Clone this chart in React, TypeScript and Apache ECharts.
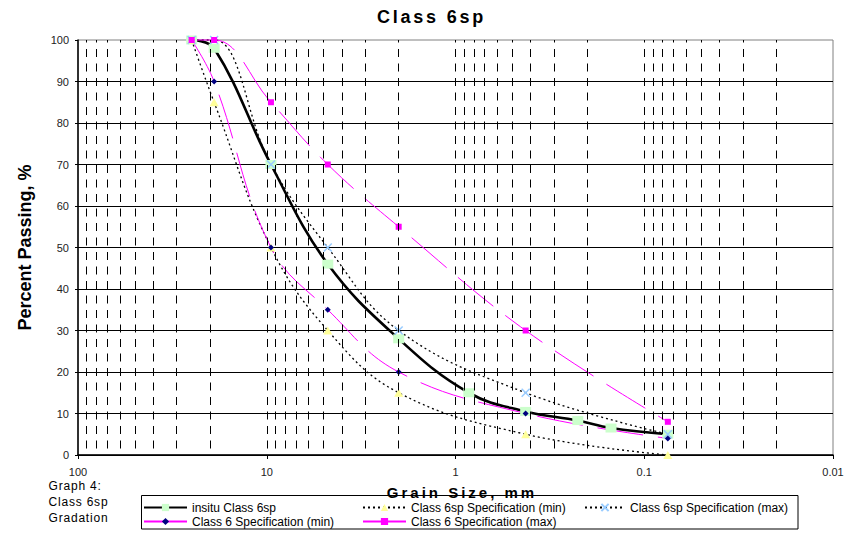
import React, { useEffect, useRef } from 'react';
import * as echarts from 'echarts';

const TITLE = 'Class 6sp';
const X_NAME = 'Grain Size, mm';
const Y_NAME = 'Percent Passing, %';
const NOTE_LINES = ['Graph 4:', 'Class 6sp', 'Gradation'];

const SERIES_NAMES = [
  'insitu Class 6sp',
  'Class 6sp Specification (min)',
  'Class 6sp Specification (max)',
  'Class 6 Specification (min)',
  'Class 6 Specification (max)',
];

// grain size (mm) and percent passing
const insituSize = [25, 19, 9.5, 4.75, 2.0, 0.85, 0.425, 0.225, 0.15, 0.075];
const insituPassing = [100, 98, 70, 46, 28, 15, 10.5, 8.3, 6.5, 5];

const specSize = [25, 19, 9.5, 4.75, 2.0, 0.425, 0.075];
const spec6spMin = [100, 85, 50, 30, 15, 5, 0];
const spec6spMax = [100, 100, 70, 50, 30, 15, 5];
const spec6Min = [100, 90, 50, 35, 20, 10, 4];
const spec6Max = [100, 100, 85, 70, 55, 30, 8];

const X_MIN = 0.01;
const X_MAX = 100;
const Y_MIN = 0;
const Y_MAX = 100;
const Y_STEP = 10;

// vertical (minor) grid line positions on the log axis
const gridSizes = [
  90, 80, 70, 60, 50, 40, 30, 20, 10,
  9, 8, 7, 6, 5, 4, 3, 2, 1,
  0.9, 0.8, 0.7, 0.6, 0.5, 0.4, 0.3, 0.2, 0.1,
  0.09, 0.08, 0.07, 0.06, 0.05, 0.04, 0.03, 0.02,
];

const FONT = 'Arial, "Liberation Sans", Helvetica, sans-serif';

const pairs = (xs: number[], ys: number[]) => xs.map((x, i) => [x, ys[i]]);

const SPACING_RULES: Array<[string, number, number, number]> = [
  // text, min font size, max font size, letter spacing
  [TITLE, 16, 30, 2.8],
  [X_NAME, 13, 30, 3],
  [NOTE_LINES[0], 10, 14, 0.8],
  [NOTE_LINES[1], 10, 14, 0.8],
  [NOTE_LINES[2], 10, 14, 0.8],
];

function applySpacing(root: HTMLElement) {
  root.querySelectorAll('text').forEach((t) => {
    const s = t.textContent || '';
    const fs = parseFloat(getComputedStyle(t).fontSize) || 0;
    for (const [txt, lo, hi, ls] of SPACING_RULES) {
      if (s === txt && fs >= lo && fs <= hi) {
        t.setAttribute('letter-spacing', ls + 'px');
      }
    }
  });
}

const legendLayout = [
  { left: 143, top: 501.5, w: 43 },
  { left: 362, top: 501.5, w: 43 },
  { left: 584, top: 501.5, w: 40 },
  { left: 143, top: 515.5, w: 43 },
  { left: 362, top: 515.5, w: 43 },
];

function buildOption(): any {
  const common = { type: 'line', smooth: 0.4, clip: false, silent: true, z: 3 };
  return {
    animation: false,
    backgroundColor: '#ffffff',
    grid: {
      left: 78,
      right: 23,
      top: 40,
      bottom: 79,
      show: true,
      borderColor: '#808080',
      borderWidth: 1,
      backgroundColor: 'transparent',
    },
    xAxis: {
      type: 'log',
      logBase: 10,
      min: X_MIN,
      max: X_MAX,
      inverse: true,
      axisLine: { show: true, onZero: false, lineStyle: { color: '#000', width: 1.5 } },
      axisTick: { show: true, length: 4, lineStyle: { color: '#000' } },
      axisLabel: {
        fontFamily: FONT,
        fontSize: 11,
        color: '#222',
        margin: 11,
        showMinLabel: true,
        showMaxLabel: true,
        formatter: (v: number) => String(Number(v.toPrecision(4))),
      },
      splitLine: { show: false },
    },
    yAxis: {
      type: 'value',
      min: Y_MIN,
      max: Y_MAX,
      interval: Y_STEP,
      axisLine: { show: true, lineStyle: { color: '#000', width: 1.5 } },
      axisTick: { show: true, length: 3, lineStyle: { color: '#000' } },
      axisLabel: { fontFamily: FONT, fontSize: 11, color: '#222', margin: 9 },
      splitLine: { show: true, showMaxLine: false, lineStyle: { color: '#000', width: 1 } },
    },
    legend: SERIES_NAMES.map((n, i) => ({
      data: [n],
      left: legendLayout[i].left,
      top: legendLayout[i].top,
      itemWidth: legendLayout[i].w,
      itemHeight: 9,
      padding: 0,
      itemGap: 0,
      selectedMode: false,
      textStyle: { fontFamily: FONT, fontSize: 12, color: '#000' },
    })),
    graphic: [
      {
        type: 'rect',
        z: 0,
        shape: { x: 141.5, y: 495.5, width: 656.5, height: 33.5 },
        style: { fill: 'none', stroke: '#000', lineWidth: 1 },
      },
      {
        type: 'text',
        x: 431.5,
        y: 16.5,
        style: {
          text: TITLE,
          font: 'bold 18px ' + FONT,
          fill: '#000',
          align: 'center',
          verticalAlign: 'middle',
        },
      },
      {
        type: 'text',
        x: 462,
        y: 492,
        style: {
          text: X_NAME,
          font: 'bold 15px ' + FONT,
          fill: '#000',
          align: 'center',
          verticalAlign: 'middle',
        },
      },
      {
        type: 'text',
        x: 25,
        y: 247.5,
        rotation: Math.PI / 2,
        style: {
          text: Y_NAME,
          font: 'bold 18px ' + FONT,
          fill: '#000',
          align: 'center',
          verticalAlign: 'middle',
        },
      },
      ...NOTE_LINES.map((t, i) => ({
        type: 'text',
        x: 48.5,
        y: [485.7, 502.3, 518.3][i],
        style: {
          text: t,
          font: '12px ' + FONT,
          fill: '#000',
          align: 'left',
          verticalAlign: 'middle',
        },
      })),
    ],
    series: [
      {
        name: 'vgrid',
        type: 'line',
        data: [],
        silent: true,
        z: 1,
        markLine: {
          silent: true,
          animation: false,
          symbol: ['none', 'none'],
          label: { show: false },
          emphasis: { disabled: true },
          lineStyle: { color: '#000', width: 1, type: [8, 6.5], dashOffset: 8 },
          data: gridSizes.map((v) => ({ xAxis: v })),
        },
      },
      {
        ...common,
        name: SERIES_NAMES[0],
        data: pairs(insituSize, insituPassing),
        symbol: 'rect',
        symbolSize: [11, 9],
        lineStyle: { color: '#000', width: 2.6 },
        itemStyle: { color: '#ccffcc' },
      },
      {
        ...common,
        name: SERIES_NAMES[1],
        data: pairs(specSize, spec6spMin),
        symbol: 'triangle',
        symbolSize: [9, 8],
        lineStyle: { color: '#000', width: 1.3, type: [2, 3] },
        itemStyle: { color: '#ffff99' },
      },
      {
        ...common,
        name: SERIES_NAMES[2],
        data: pairs(specSize, spec6spMax),
        symbol: 'path://M0,0L10,10M10,0L0,10',
        symbolSize: 8,
        lineStyle: { color: '#000', width: 1.3, type: [2, 3] },
        itemStyle: { color: '#99ccff', borderColor: '#99ccff', borderWidth: 1.5 },
      },
      {
        ...common,
        name: SERIES_NAMES[3],
        data: pairs(specSize, spec6Min),
        symbol: 'diamond',
        symbolSize: 6,
        lineStyle: { color: '#ff00ff', width: 1, type: [46, 15] },
        itemStyle: { color: '#000080' },
      },
      {
        ...common,
        name: SERIES_NAMES[4],
        data: pairs(specSize, spec6Max),
        symbol: 'rect',
        symbolSize: 6,
        lineStyle: { color: '#ff00ff', width: 1, type: [46, 15] },
        itemStyle: { color: '#ff00ff' },
      },
    ],
  };
}

export default function App() {
  const ref = useRef<HTMLDivElement>(null);
  useEffect(() => {
    const el = ref.current;
    if (!el) return;
    const chart = echarts.init(el, undefined, { renderer: 'svg' });
    chart.setOption(buildOption());
    applySpacing(el);
    chart.on('finished', () => applySpacing(el));
    return () => {
      chart.dispose();
    };
  }, []);
  return (
    <div
      ref={ref}
      style={{ position: 'fixed', left: 0, top: 0, width: 856, height: 534, background: '#fff' }}
    />
  );
}
